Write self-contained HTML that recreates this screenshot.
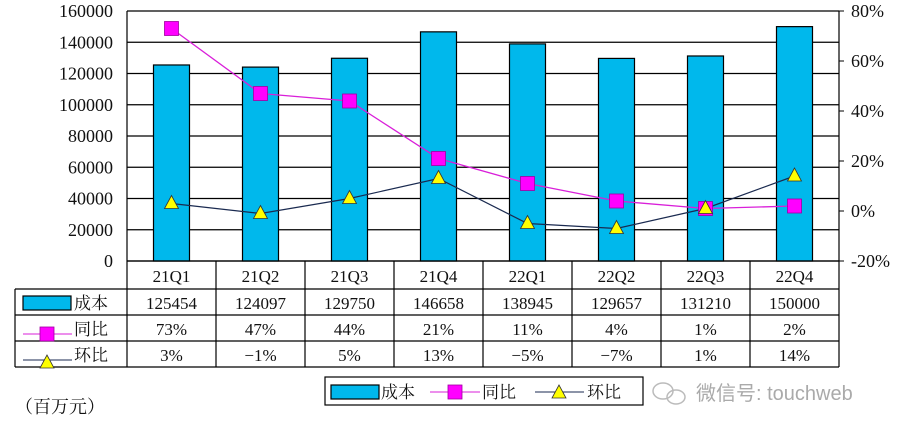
<!DOCTYPE html>
<html><head><meta charset="utf-8">
<style>
html,body{margin:0;padding:0;background:#fff;}
svg{display:block;font-family:"Liberation Serif","Noto Serif CJK SC","Noto Sans CJK SC",serif;}
</style></head>
<body>
<svg id="chart" width="903" height="433" viewBox="0 0 903 433" xmlns="http://www.w3.org/2000/svg"></svg>
<script>
const categories = ["21Q1","21Q2","21Q3","21Q4","22Q1","22Q2","22Q3","22Q4"];
const costValues = [125454,124097,129750,146658,138945,129657,131210,150000];
const yoyValues = [73,47,44,21,11,4,1,2];
const qoqValues = [3,-1,5,13,-5,-7,1,14];
const leftTicks = [0,20000,40000,60000,80000,100000,120000,140000,160000];
const rightTicks = [-20,0,20,40,60,80];

const svg = document.getElementById('chart');
const NS = 'http://www.w3.org/2000/svg';
const L = 127, R = 839, T = 11, B = 261;
const bw = (R - L) / categories.length;
function xC(i){ return L + bw * (i + 0.5); }
function yL(v){ return B - (v / 160000) * (B - T); }
function yR(v){ return B - ((v + 20) / 100) * (B - T); }
function mk(tag, attrs, parent){
  const e = document.createElementNS(NS, tag);
  for (const k in attrs) e.setAttribute(k, attrs[k]);
  (parent || svg).appendChild(e);
  return e;
}
function txt(x, y, s, anchor, size){
  const t = mk('text', {x: x, y: y, 'text-anchor': anchor || 'middle', 'font-size': size || 17, fill: '#111'});
  t.textContent = s;
  return t;
}

// gridlines
leftTicks.forEach(function(v){
  const ln = mk('line', {x1: L, x2: R, y1: yL(v), y2: yL(v), stroke: '#000', 'stroke-width': 1.2});
  
  
  const t = txt(L - 14, yL(v) + 6, String(v), 'end', 18);
  
  
});
mk('line', {x1: L, x2: L, y1: T, y2: B, stroke: '#000', 'stroke-width': 1.2});
mk('line', {x1: R, x2: R, y1: T, y2: B, stroke: '#000', 'stroke-width': 1.2});
rightTicks.forEach(function(v){
  mk('line', {x1: R, x2: R + 5, y1: yR(v), y2: yR(v), stroke: '#000'});
  const t = txt(R + 12, yR(v) + 6, v + '%', 'start', 18);
  
  
});

// bars
costValues.forEach(function(v, i){
  const w = 36;
  const r = mk('rect', {x: xC(i) - w/2, y: yL(v), width: w, height: B - yL(v), fill: '#00b8ec', stroke: '#000', 'stroke-width': 1.2});
  
  
});

// yoy line
const yoyPts = yoyValues.map(function(v, i){ return xC(i) + ',' + yR(v); }).join(' ');
const yl = mk('polyline', {points: yoyPts, fill: 'none', stroke: '#d91fd9', 'stroke-width': 1.3});


// qoq line
const qoqPts = qoqValues.map(function(v, i){ return xC(i) + ',' + yR(v); }).join(' ');
const ql = mk('polyline', {points: qoqPts, fill: 'none', stroke: '#1a2a50', 'stroke-width': 1.2});


yoyValues.forEach(function(v, i){
  const s = mk('rect', {x: xC(i) - 7, y: yR(v) - 7, width: 14, height: 14, fill: '#ff00ff', stroke: '#a000a0', 'stroke-width': 0.8});
  
  
});
qoqValues.forEach(function(v, i){
  const x = xC(i), y = yR(v);
  const p = mk('polygon', {points: (x) + ',' + (y - 8) + ' ' + (x - 7) + ',' + (y + 5) + ' ' + (x + 7) + ',' + (y + 5), fill: '#ffff00', stroke: '#333', 'stroke-width': 0.8});
  
  
});

// data table
const rows = [261, 289, 315, 341, 367];
mk('line', {x1: L, x2: R, y1: 261, y2: 261, stroke: '#000', 'stroke-width': 1.2});
for (let r = 1; r < rows.length; r++) {
  mk('line', {x1: 15, x2: R, y1: rows[r], y2: rows[r], stroke: '#000', 'stroke-width': 1.2});
}
mk('line', {x1: 15, x2: 15, y1: 289, y2: 367, stroke: '#000', 'stroke-width': 1.2});
for (let i = 0; i <= categories.length; i++) {
  mk('line', {x1: L + bw * i, x2: L + bw * i, y1: 261, y2: 367, stroke: '#000', 'stroke-width': 1.2});
}
categories.forEach(function(c, i){
  const t = txt(xC(i), 282, c);
  
  
  const a = txt(xC(i), 309, String(costValues[i]));
  
  
  const b = txt(xC(i), 335, yoyValues[i] + '%');
  
  
  const d = txt(xC(i), 361, (qoqValues[i] < 0 ? '\u2212' + Math.abs(qoqValues[i]) : qoqValues[i]) + '%');
  
  
});
// row keys
mk('rect', {x: 23, y: 296, width: 48, height: 14, fill: '#00b8ec', stroke: '#000', 'stroke-width': 1.2});
txt(74, 309, '成本', 'start');
mk('line', {x1: 23, x2: 72, y1: 334, y2: 334, stroke: '#d91fd9'});
mk('rect', {x: 40, y: 327, width: 14, height: 14, fill: '#ff00ff', stroke: '#a000a0', 'stroke-width': 0.8});
txt(74, 335, '同比', 'start');
mk('line', {x1: 23, x2: 72, y1: 360, y2: 360, stroke: '#1a2a50'});
mk('polygon', {points: '47,355 40,368 54,368', fill: '#ffff00', stroke: '#333', 'stroke-width': 0.8});
txt(74, 361, '环比', 'start');

// legend
const lg = mk('g', {});


mk('rect', {x: 325, y: 377, width: 318, height: 28, fill: '#fff', stroke: '#000', 'stroke-width': 1.2}, lg);
mk('rect', {x: 331, y: 385, width: 48, height: 14, fill: '#00b8ec', stroke: '#000', 'stroke-width': 1.2}, lg);
let t1 = txt(381, 398, '成本', 'start'); lg.appendChild(t1);
mk('line', {x1: 430, x2: 480, y1: 392, y2: 392, stroke: '#d91fd9'}, lg);
mk('rect', {x: 448, y: 385, width: 14, height: 14, fill: '#ff00ff', stroke: '#a000a0', 'stroke-width': 0.8}, lg);
let t2 = txt(482, 398, '同比', 'start'); lg.appendChild(t2);
mk('line', {x1: 535, x2: 584, y1: 392, y2: 392, stroke: '#1a2a50'}, lg);
mk('polygon', {points: '559,385 552,398 566,398', fill: '#ffff00', stroke: '#333', 'stroke-width': 0.8}, lg);
let t3 = txt(587, 398, '环比', 'start'); lg.appendChild(t3);

// unit
const u = txt(15, 413, '（百万元）', 'start', 18);



// watermark
const wm = mk('g', {});


mk('ellipse', {cx: 663, cy: 391, rx: 10, ry: 8, fill: 'none', stroke: '#bbb', 'stroke-width': 1.5}, wm);
mk('ellipse', {cx: 676, cy: 397, rx: 9, ry: 7, fill: 'none', stroke: '#bbb', 'stroke-width': 1.5}, wm);
const w = mk('text', {x: 696, y: 400, 'font-size': 20, fill: '#aaa', 'font-family': '"Liberation Sans","Noto Sans CJK SC",sans-serif'}, wm);
w.textContent = '微信号: touchweb';
</script>
</body></html>
